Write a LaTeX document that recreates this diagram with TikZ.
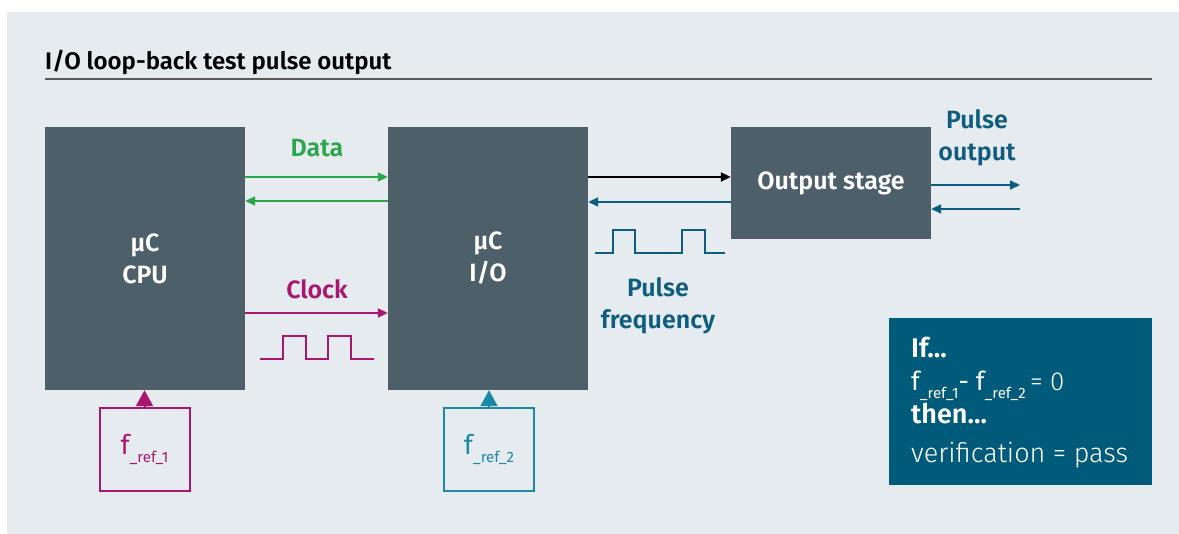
\documentclass[tikz,border=0pt]{standalone}
\usepackage{fontspec}
\setmainfont{Fira Sans}[BoldFont = {Fira Sans SemiBold}]
\newfontfamily\lightfont{Fira Sans Light}
\usetikzlibrary{arrows.meta}

\definecolor{bgc}{HTML}{E6EBEF}
\definecolor{blkc}{HTML}{4D5F69}
\definecolor{datac}{HTML}{2BA64B}
\definecolor{clkc}{HTML}{A8166E}
\definecolor{pulsec}{HTML}{0F5D7E}
\definecolor{frefc}{HTML}{1B88A8}
\definecolor{condc}{HTML}{005A79}

\newcommand{\fref}[1]{f\raisebox{-.3em}{\fontsize{15}{15}\selectfont\_ref\_#1}}
\newcommand{\lblsize}{\fontsize{25}{32}\selectfont}

\begin{document}
\begin{tikzpicture}[x=1pt, y=-1pt,
    >={Triangle[length=10pt, width=9pt]},
    blk/.style = {fill = blkc, text = white, align = center,
                  font = \lblsize\bfseries, inner sep = 0pt},
    lbl/.style = {align = center, font = \lblsize\bfseries},
    frefbox/.style = {draw, line width = 2pt, minimum width = 90pt,
                      minimum height = 83pt, font = \fontsize{27}{28}\selectfont},
    wave/.style = {line width = 2pt},
    cline/.style = {anchor = base west, text = white, inner sep = 0pt}]
  \useasboundingbox (0,0) rectangle (1179,534);
  \fill [bgc] (7,12) rectangle (1179,534);

  % title
  \node [anchor = base west, inner sep = 0pt, font = \fontsize{24}{26}\selectfont\bfseries]
    (title) at (45,70) {I/O loop-back test pulse output};
  \draw [line width = 1.2pt, black!65] (45,79) -- (1152,79);

  % blocks
  \node [blk, minimum width = 200pt, minimum height = 263pt] (cpu) at (145,258.5) {µC\\CPU};
  \node [blk, minimum width = 200pt, minimum height = 263pt] (io) at (488,258.5) {µC\\I/O};
  \node [blk, minimum width = 200pt, minimum height = 112pt] (out) at (831,183) {Output stage};

  % data and clock
  \draw [->, datac, line width = 2pt] ([yshift = 81.5pt]cpu.east) -- ([yshift = 81.5pt]io.west);
  \draw [->, datac, line width = 2pt] ([yshift = 57.5pt]io.west) -- ([yshift = 57.5pt]cpu.east);
  \node [lbl, text = datac] (data) at (317,148) {Data};
  \draw [->, clkc, line width = 2pt] ([yshift = -54.5pt]cpu.east) -- ([yshift = -54.5pt]io.west);
  \node [lbl, text = clkc] (clock) at (317,289) {Clock};
  \draw [wave, clkc] (260,359) -- (283,359) -- (283,336) -- (306,336) -- (306,359)
    -- (328,359) -- (328,336) -- (351,336) -- (351,359) -- (374,359);

  % to and from the output stage
  \draw [->, black, line width = 2pt] ([yshift = 81.5pt]io.east) -- ([yshift = 81.5pt]io.east -| out.west);
  \draw [->, pulsec, line width = 2pt] ([yshift = -19pt]out.west) -- ([yshift = -19pt]out.west -| io.east);
  \draw [wave, pulsec] (595,253) -- (613,253) -- (613,230) -- (635,230) -- (635,253)
    -- (682,253) -- (682,230) -- (705,230) -- (705,253) -- (725,253);
  \node [lbl, text = pulsec] (pfreq) at (658,306) {Pulse\\frequency};

  \coordinate (po1) at (1020,185);
  \coordinate (po2) at (1020,209);
  \draw [->, pulsec, line width = 2pt] (out.east |- po1) -- (po1);
  \draw [->, pulsec, line width = 2pt] (po2) -- (out.east |- po2);
  \node [lbl, text = pulsec] (pout) at (977,138) {Pulse\\output};

  % reference frequencies
  \node [frefbox, clkc] (f1) at (144.5,449.5) {\fref{1}};
  \node [frefbox, frefc] (f2) at (489,449.5) {\fref{2}};
  \draw [-{Triangle[length=16pt, width=17pt]}, clkc, line width = 2pt] (f1.north) -- (f1.north |- cpu.south);
  \draw [-{Triangle[length=16pt, width=17pt]}, frefc, line width = 2pt] (f2.north) -- (f2.north |- io.south);

  % check
  \node [fill = condc, minimum width = 263pt, minimum height = 167pt, inner sep = 0pt]
    (cond) at (1020.5,401.5) {};
  \node [cline, font = \fontsize{27}{28}\selectfont\bfseries] (c1) at (911,358) {If...};
  \node [cline, font = \fontsize{26}{28}\selectfont] (c2) at (911,391) {\fref{1}- \fref{2}\,{\lightfont = 0}};
  \node [cline, font = \fontsize{27}{28}\selectfont\bfseries] (c3) at (911,424) {then...};
  \node [cline, font = \fontsize{27}{28}\selectfont\lightfont] (c4) at (911,463) {verification = pass};
\end{tikzpicture}
\end{document}
